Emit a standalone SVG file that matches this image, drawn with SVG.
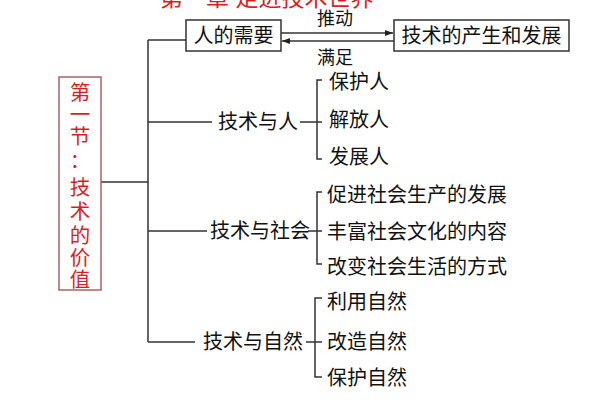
<svg xmlns="http://www.w3.org/2000/svg" width="600" height="400" viewBox="0 0 600 400">
<style>
text{font-family:"Liberation Sans","Noto Sans CJK SC",sans-serif;fill:#111}
.t{font-size:20px}
.s{font-size:18px}
.red{fill:#d81e1e}
.box{fill:#fff;stroke:#333;stroke-width:1.5}
.ln{fill:none;stroke:#333;stroke-width:1.5}
</style>
<defs>
<marker id="ah" viewBox="0 0 8 6" refX="8" refY="3" markerWidth="8" markerHeight="6" markerUnits="userSpaceOnUse" orient="auto">
<path d="M0,0 L8,3 L0,6 Z" fill="#222"/>
</marker>
</defs>
<rect width="600" height="400" fill="#fff"/>
<text class="red" x="160" y="6" style="font-size:23px">第一章 走进技术世界</text>

<g id="connectors">
<path class="ln" d="M281,33 H393" marker-end="url(#ah)"/>
<path class="ln" d="M394,41 H282" marker-end="url(#ah)"/>
<path class="ln" d="M101,182 H148 M148,40 V342 M148,40 H186 M148,122 H212 M148,231 H207 M148,342 H195"/>
<path class="ln" d="M322,80 H317 V159 H322 M300,122 H322"/>
<path class="ln" d="M322,192 H317 V264 H322 M308,231 H322"/>
<path class="ln" d="M322,298 H315 V377 H322 M306,342 H322"/>
</g>
<text class="s" x="335" y="25" text-anchor="middle">推动</text>
<text class="s" x="335" y="64" text-anchor="middle">满足</text>

<g id="need">
<rect class="box" x="186" y="20" width="95" height="31"/>
<text class="t" x="233.5" y="43" text-anchor="middle">人的需要</text>
</g>
<g id="tech">
<rect class="box" x="394" y="20" width="175" height="31"/>
<text class="t" x="481.5" y="43" text-anchor="middle">技术的产生和发展</text>
</g>
<g id="section">
<rect x="59" y="77" width="42" height="213" fill="#fff" stroke="#b06060" stroke-width="1.5"/>
<g style="font-size:20.5px" text-anchor="middle">
<text class="red" x="80" y="100">第</text>
<text class="red" x="80" y="122">一</text>
<text class="red" x="80" y="144">节</text>
<text class="red" x="80" y="168">：</text>
<text class="red" x="80" y="195">技</text>
<text class="red" x="80" y="219">术</text>
<text class="red" x="80" y="243">的</text>
<text class="red" x="80" y="265">价</text>
<text class="red" x="80" y="287">值</text>
</g>
</g>
<g id="human">
<text class="t" x="218" y="129">技术与人</text>
<text class="t" x="329" y="89">保护人</text>
<text class="t" x="329" y="127">解放人</text>
<text class="t" x="329" y="164">发展人</text>
</g>
<g id="society">
<text class="t" x="210" y="238">技术与社会</text>
<text class="t" x="327" y="202">促进社会生产的发展</text>
<text class="t" x="327" y="239">丰富社会文化的内容</text>
<text class="t" x="327" y="274">改变社会生活的方式</text>
</g>
<g id="nature">
<text class="t" x="203" y="349">技术与自然</text>
<text class="t" x="327" y="309">利用自然</text>
<text class="t" x="327" y="349">改造自然</text>
<text class="t" x="327" y="385">保护自然</text>
</g>
</svg>
